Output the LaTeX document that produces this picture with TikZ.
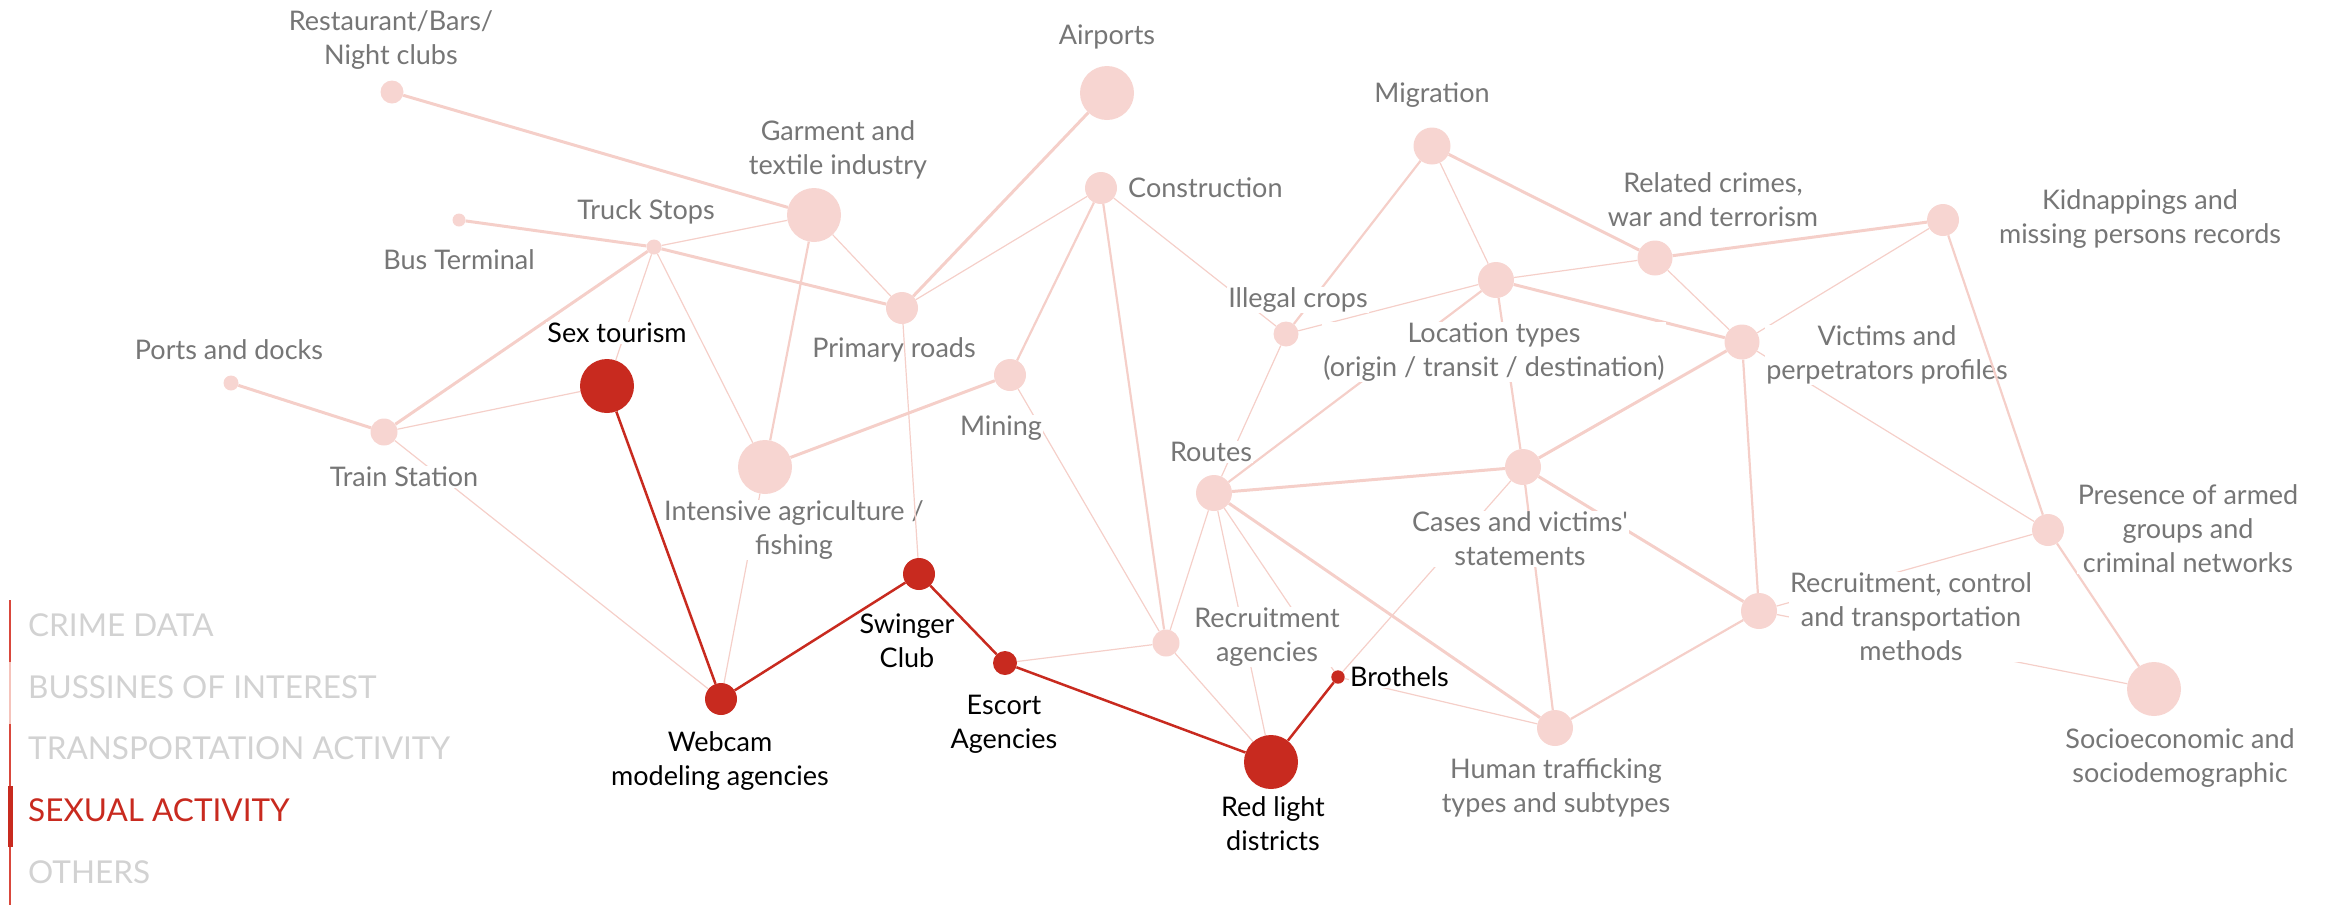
\documentclass[tikz,border=0pt]{standalone}
\usepackage{fontspec}
\setmainfont{Lato}

\definecolor{nodepink}{HTML}{F7D5D1}
\definecolor{edgepink}{HTML}{F5CFC9}
\definecolor{sexred}{HTML}{C82A1F}
\definecolor{labelgray}{HTML}{767676}
\definecolor{legendgray}{HTML}{D2D2D2}
\definecolor{legendred}{HTML}{D9483C}
\definecolor{legendpink}{HTML}{F5C3BB}

\newcommand{\lblfont}{\fontsize{27}{34}\selectfont}
\newcommand{\legfont}{\fontsize{31.5}{38}\selectfont}

\pgfdeclarelayer{links}
\pgfdeclarelayer{toplinks}
\pgfsetlayers{links,main,toplinks}

\tikzset{
  dot/.style={circle, fill=nodepink, inner sep=0pt, minimum size=#1},
  hotdot/.style={circle, fill=sexred, inner sep=0pt, minimum size=#1},
  lbl/.style={font=\lblfont, text=labelgray, align=center, fill=white, inner sep=1pt},
  hotlbl/.style={lbl, text=black},
  thinedge/.style={draw=edgepink, line width=1.2pt},
  midedge/.style={draw=edgepink, line width=2.2pt},
  thickedge/.style={draw=edgepink, line width=3pt},
  hotedge/.style={draw=sexred, line width=2.5pt},
  legtext/.style={font=\legfont, text=legendgray, anchor=west, inner sep=0pt}
}

\begin{document}
\begin{tikzpicture}[x=1pt, y=-1pt]
  \useasboundingbox (0,0) rectangle (2337,906);

  % --- Labels ---
  \node[lbl] (l-rest) at (391,40) {Restaurant/Bars/\\Night clubs};
  \node[lbl] (l-bus) at (459,260) {Bus Terminal};
  \node[lbl] (l-truck) at (646,212) {Truck Stops};
  \node[lbl] (l-ports) at (229,350) {Ports and docks};
  \node[lbl] (l-train) at (404,477) {Train Station};
  \node[lbl] (l-garment) at (838,150) {Garment and\\textile industry};
  \node[lbl] (l-airports) at (1107,37) {Airports};
  \node[lbl, anchor=west] (l-constr) at (1127,188) {Construction};
  \node[lbl] (l-primary) at (894,350) {Primary roads};
  \node[lbl] (l-mining) at (1001,428) {Mining};
  \node[lbl] (l-intens) at (794,530) {Intensive agriculture /\\fishing};
  \node[lbl] (l-migr) at (1432,95) {Migration};
  \node[lbl] (l-illegal) at (1298,300) {Illegal crops};
  \node[lbl] (l-loc) at (1494,352) {Location types\\(origin / transit / destination)};
  \node[lbl] (l-routes) at (1211,452) {Routes};
  \node[lbl] (l-related) at (1713,200) {Related crimes,\\war and terrorism};
  \node[lbl] (l-kidnap) at (2140,219) {Kidnappings and\\missing persons records};
  \node[lbl] (l-victims) at (1887,355) {Victims and\\perpetrators profiles};
  \node[lbl] (l-cases) at (1520,539) {Cases and victims\textquotesingle\\statements};
  \node[lbl] (l-recag) at (1267,637) {Recruitment\\agencies};
  \node[lbl] (l-recctl) at (1911,617) {Recruitment, control\\and transportation\\methods};
  \node[lbl] (l-presence) at (2188,529) {Presence of armed\\groups and\\criminal networks};
  \node[lbl] (l-human) at (1556,788) {Human trafficking\\types and subtypes};
  \node[lbl] (l-socio) at (2180,758) {Socioeconomic and\\sociodemographic};

  \node[hotlbl] (l-sex) at (617,333) {Sex tourism};
  \node[hotlbl] (l-swinger) at (907,641) {Swinger\\Club};
  \node[hotlbl] (l-escort) at (1004,724) {Escort\\Agencies};
  \node[hotlbl] (l-webcam) at (720,761) {Webcam\\modeling agencies};
  \node[hotlbl] (l-redlight) at (1273,824) {Red light\\districts};
  \node[hotlbl, anchor=west] (l-brothels) at (1349,677) {Brothels};

  % --- Knopen: naam / x / y / straal ---
  \foreach \n/\x/\y/\r in {rest/392/92/11.5, bus/459/220/6.5, truck/654/247/7.5,
      ports/231/383/7.5, train/384/432/13.5, garment/814/215/27, airports/1107/93/27,
      constr/1101/188/16, primary/902/308/16, mining/1010/375/16, intens/765/467/27,
      migr/1432/146/18.5, illegal/1286/334/12.5, loc/1496/280/18, routes/1214/493/18,
      related/1655/258/17.5, kidnap/1943/220/16, victims/1742/342/17.5, cases/1523/467/18,
      recag/1166/643/13.5, recctl/1759/611/18, presence/2048/530/16, human/1555/728/18,
      socio/2154/689/27}
    \node[dot=2*\r] (\n) at (\x,\y) {};

  % sexual activity
  \foreach \n/\x/\y/\r in {sex/607/386/27, webcam/721/699/16, swinger/919/574/16,
      escort/1005/663/12, redlight/1271/762/27, brothels/1338/677/6.7}
    \node[hotdot=2*\r] (\n) at (\x,\y) {};

  % --- Verbindingen (onder de labels) ---
  \begin{pgfonlayer}{links}
    \foreach \a/\b in {rest/garment, bus/truck, truck/primary, truck/train, ports/train,
        intens/mining, migr/related, loc/victims, related/kidnap, routes/cases,
        victims/cases, cases/recctl, routes/human, primary/airports}
      \draw[thickedge] (\a) -- (\b);
    \foreach \a/\b in {garment/intens, constr/mining, constr/recag, migr/illegal,
        loc/routes, loc/cases, victims/recctl, cases/human,
        human/recctl, presence/socio}
      \draw[midedge] (\a) -- (\b);
    \foreach \a/\b in {truck/garment, truck/sex, truck/intens, garment/primary,
        primary/constr, constr/illegal, train/sex, train/webcam,
        intens/webcam, mining/recag, migr/loc, illegal/loc, illegal/routes, loc/related,
        related/victims, kidnap/victims, victims/presence, routes/recag, routes/redlight,
        routes/brothels, recag/redlight, recag/escort, cases/brothels, brothels/human,
        recctl/presence, recctl/socio}
      \draw[thinedge] (\a) -- (\b);
  \end{pgfonlayer}

  % --- Verbindingen over de labels ---
  \begin{pgfonlayer}{toplinks}
    \draw[midedge] (kidnap) -- (presence);
    \draw[thinedge] (primary) -- (swinger);
    \foreach \a/\b in {sex/webcam, webcam/swinger, swinger/escort, escort/redlight,
        redlight/brothels}
      \draw[hotedge] (\a) -- (\b);
  \end{pgfonlayer}

  % --- Legende ---
  \foreach \ya/\yb/\c in {600/662/legendred, 662/724/legendpink, 724/786/legendred,
      847/905/legendred}
    \draw[\c, line width=1.6pt] (10,\ya) -- (10,\yb);
  \draw[sexred, line width=5pt] (10,786) -- (10,847);

  \node[legtext] (leg-crime) at (28,625) {CRIME DATA};
  \node[legtext] (leg-business) at (28,687) {BUSSINES OF INTEREST};
  \node[legtext] (leg-transport) at (28,748) {TRANSPORTATION ACTIVITY};
  \node[legtext, text=sexred] (leg-sexual) at (28,810) {SEXUAL ACTIVITY};
  \node[legtext] (leg-others) at (28,872) {OTHERS};
\end{tikzpicture}
\end{document}
